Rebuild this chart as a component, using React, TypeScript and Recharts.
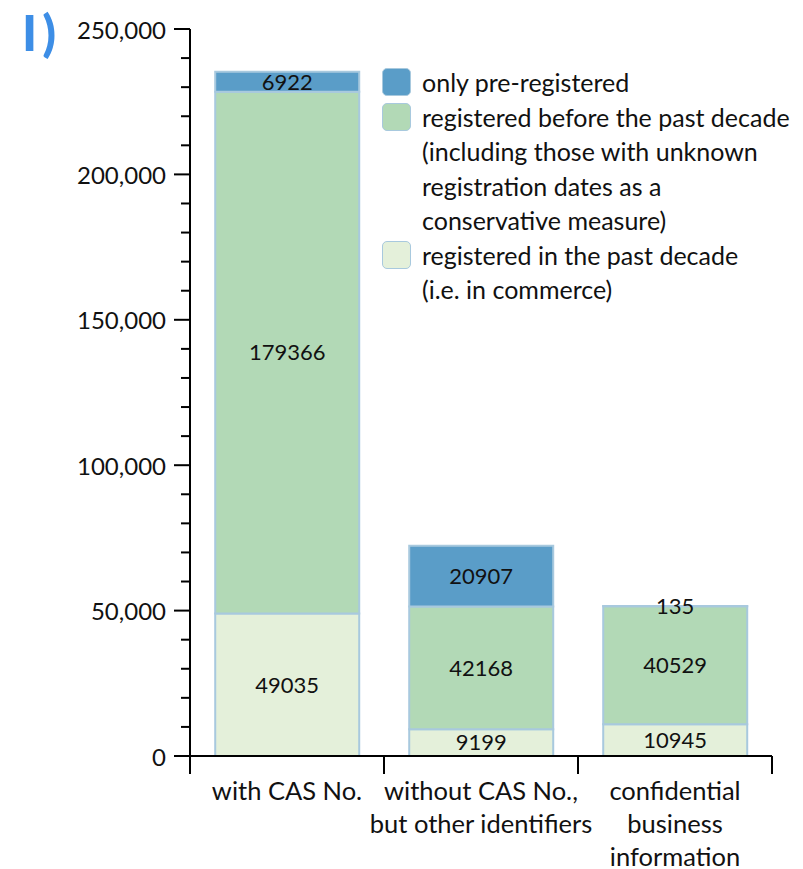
import { BarChart, Bar, XAxis, YAxis, Legend, LabelList } from 'recharts';

const CATEGORIES = ['with CAS No.', 'without CAS No.', 'confidential'];
const CATEGORY_LINES = [
    ['with CAS No.'],
    ['without CAS No.,', 'but other identifiers'],
    ['confidential', 'business', 'information'],
];
const PAST_DECADE = [49035, 9199, 10945];
const BEFORE_DECADE = [179366, 42168, 40529];
const PRE_REGISTERED = [6922, 20907, 135];

const Y_TICKS = [
    0, 10000, 20000, 30000, 40000, 50000, 60000, 70000, 80000, 90000, 100000, 110000, 120000, 130000,
    140000, 150000, 160000, 170000, 180000, 190000, 200000, 210000, 220000, 230000, 240000, 250000,
];

const SERIES = [
    { key: 'pastDecade', color: '#e4f0da', lines: ['registered in the past decade', '(i.e. in commerce)'] },
    {
        key: 'beforeDecade',
        color: '#b2d9b6',
        lines: [
            'registered before the past decade',
            '(including those with unknown',
            'registration dates as a',
            'conservative measure)',
        ],
    },
    { key: 'preRegistered', color: '#5a9dc8', lines: ['only pre-registered'] },
];

const data = CATEGORIES.map((name, i) => ({
    name,
    pastDecade: PAST_DECADE[i],
    beforeDecade: BEFORE_DECADE[i],
    preRegistered: PRE_REGISTERED[i],
}));

const FONT = 'Lato, "Open Sans", sans-serif';
const STROKE = '#a8c9de';
const Y_TICK_SIZE = 16;
const Y_TICK_MARGIN = 8;
const X_TICK_SIZE = 18;
// plot width / number of categories, used only as a fallback for the band offset
const BAND_FALLBACK = (803 - 190 - 31) / CATEGORIES.length;

function YTick(props: any) {
    const { x, y, payload } = props;
    const axisX = x + Y_TICK_SIZE + Y_TICK_MARGIN;
    const major = payload.value % 50000 === 0;
    const len = major ? Y_TICK_SIZE : 9;
    return (
        <g>
            <line x1={axisX - len} x2={axisX} y1={y} y2={y} stroke="#000" strokeWidth={2} />
            {major && (
                <text x={x} y={y} textAnchor="end" dominantBaseline="central" fontSize={24} fill="#111" fontFamily={FONT}>
                    {payload.value.toLocaleString('en-US')}
                </text>
            )}
        </g>
    );
}

function XTick(props: any) {
    const { x, y, index, payload } = props;
    const lines = CATEGORY_LINES[index] || [];
    const half = payload && payload.offset ? payload.offset : BAND_FALLBACK / 2;
    const last = index === CATEGORIES.length - 1;
    return (
        <g>
            <line x1={x - half} x2={x - half} y1={y} y2={y + X_TICK_SIZE} stroke="#000" strokeWidth={2} />
            {last && <line x1={x + half} x2={x + half} y1={y} y2={y + X_TICK_SIZE} stroke="#000" strokeWidth={2} />}
            <text x={x} y={y} textAnchor="middle" fontSize={25.5} fill="#111" fontFamily={FONT}>
                {lines.map((l, i) => (
                    <tspan key={i} x={x} y={y + 44 + i * 33}>
                        {l}
                    </tspan>
                ))}
            </text>
        </g>
    );
}

function LegendBox() {
    const items = [...SERIES].reverse();
    return (
        <div style={{ fontFamily: FONT, fontSize: 25, lineHeight: '34.5px', color: '#111' }}>
            {items.map((s) => (
                <div key={s.key} style={{ display: 'flex', alignItems: 'flex-start' }}>
                    <div
                        style={{
                            width: 29,
                            height: 28,
                            marginTop: 3,
                            borderRadius: 5,
                            background: s.color,
                            border: `1px solid ${STROKE}`,
                            boxSizing: 'border-box',
                            marginRight: 11,
                            flexShrink: 0,
                        }}
                    />
                    <div>
                        {s.lines.map((l, i) => (
                            <div key={i} style={{ whiteSpace: 'nowrap' }}>
                                {l}
                            </div>
                        ))}
                    </div>
                </div>
            ))}
        </div>
    );
}

export default function App() {
    return (
        <div style={{ position: 'relative', width: 803, height: 869, background: '#fff' }}>
            <style>{'body{margin:0}'}</style>
            <div
                style={{
                    position: 'absolute',
                    left: 22,
                    top: 2,
                    fontFamily: FONT,
                    fontWeight: 900,
                    fontSize: 50,
                    letterSpacing: 5,
                    color: '#3d8ee6',
                    zIndex: 2,
                }}
            >
                I)
            </div>
            <BarChart
                width={803}
                height={869}
                data={data}
                margin={{ top: 29, right: 31, left: 0, bottom: 0 }}
                barCategoryGap="13%"
            >
                <XAxis
                    dataKey="name"
                    height={113}
                    axisLine={{ stroke: '#000', strokeWidth: 2 }}
                    tickLine={false}
                    tickSize={0}
                    tickMargin={0}
                    interval={0}
                    tick={<XTick />}
                />
                <YAxis
                    width={190}
                    domain={[0, 250000]}
                    ticks={Y_TICKS}
                    interval={0}
                    tickSize={Y_TICK_SIZE}
                    tickMargin={Y_TICK_MARGIN}
                    tickLine={false}
                    axisLine={{ stroke: '#000', strokeWidth: 2 }}
                    tick={<YTick />}
                />
                <Legend
                    layout="vertical"
                    align="center"
                    verticalAlign="middle"
                    content={<LegendBox />}
                    wrapperStyle={{ position: 'absolute', left: 382, top: 65, width: 420 }}
                />
                {SERIES.map((s) => (
                    <Bar
                        key={s.key}
                        dataKey={s.key}
                        stackId="a"
                        fill={s.color}
                        stroke={STROKE}
                        strokeWidth={2}
                        isAnimationActive={false}
                    >
                        <LabelList dataKey={s.key} position="center" fill="#111" fontSize={22} fontFamily={FONT} />
                    </Bar>
                ))}
            </BarChart>
        </div>
    );
}
